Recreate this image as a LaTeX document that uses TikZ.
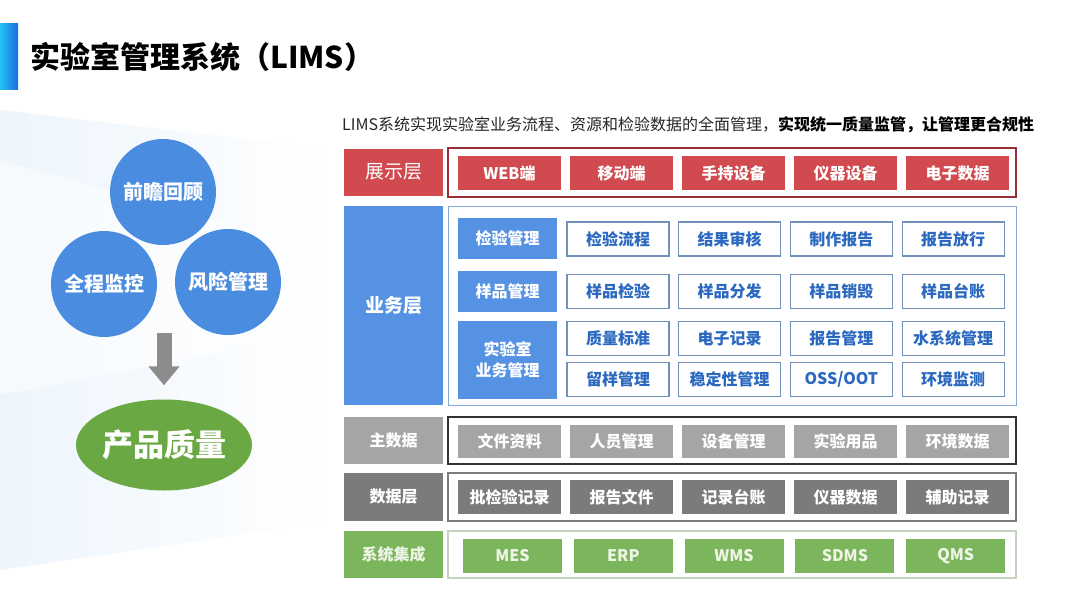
\documentclass[tikz,border=0pt]{standalone}
\usepackage{fontspec}
\setmainfont{Noto Sans CJK SC}
\usetikzlibrary{arrows.meta}
\usetikzlibrary{shapes.geometric}

\definecolor{barcyan}{HTML}{22C3F2}
\definecolor{barblue}{HTML}{1B6CE0}
\definecolor{backblue}{HTML}{EDF5FC}
\definecolor{showred}{HTML}{D04A4F}
\definecolor{showframe}{HTML}{9A2E36}
\definecolor{bizblue}{HTML}{5592E3}
\definecolor{bizframe}{HTML}{86A8D4}
\definecolor{bizedge}{HTML}{7190BC}
\definecolor{biztext}{HTML}{2B68C0}
\definecolor{mastergray}{HTML}{A7A4A4}
\definecolor{datagray}{HTML}{7B7B7B}
\definecolor{intgreen}{HTML}{7CB65C}
\definecolor{intframe}{HTML}{C5D2BE}
\definecolor{inttext}{HTML}{EEF5E6}
\definecolor{circblue}{HTML}{4A8DE0}
\definecolor{qualgreen}{HTML}{6AA843}
\definecolor{arrowgray}{HTML}{8C8C8C}

\newcommand{\fsz}[1]{\fontsize{#1}{#1}\selectfont}

\tikzset{
  box/.style={inner sep=0pt, text=white, font=\fsz{16}\bfseries},
  layer/.style={box, minimum width=99pt, minimum height=47pt},
  item/.style={box, minimum width=103pt, minimum height=34pt},
  frame/.style={draw, line width=1.3pt, minimum width=568pt, inner sep=0pt},
  bizitem/.style={item, fill=white, draw=bizedge, line width=1.2pt, minimum width=102pt, text=biztext},
  circ/.style={circle, fill=circblue, minimum size=106pt, inner sep=0pt, text=white, font=\fsz{20}\bfseries}
}

\begin{document}
\begin{tikzpicture}[x=1pt, y=-1pt]
\useasboundingbox (0,0) rectangle (1066,600);
\fill[white] (0,0) rectangle (1066,600);
% background bands
\shade[left color=backblue, right color=white] (0,110) -- (340,150) -- (340,520) -- (0,570) -- cycle;
\fill[white, opacity=0.5] (0,160) -- (340,255) -- (340,330) -- (0,395) -- cycle;

% title
\shade[left color=barcyan, right color=barblue] (0,23) rectangle (18,89);
\node[anchor=west, inner sep=0pt, font=\fsz{30}\bfseries] (title) at (30,57) {实验室管理系统（LIMS）};

% left part
\node[circ] (review) at (163,192) {前瞻回顾};
\node[circ] (monitor) at (104,284) {全程监控};
\node[circ] (risk) at (228,282) {风险管理};
\node[ellipse, fill=qualgreen, minimum width=176pt, minimum height=91pt, inner sep=0pt,
      text=white, font=\fsz{31}\bfseries] (quality) at (164,445) {产品质量};
\coordinate (arrowtop) at (164,333);
\draw[arrowgray, line width=15pt, -{Triangle[width=30pt, length=19pt]}, shorten >=14pt]
  (arrowtop) -- (quality);

% headline
\node[anchor=west, inner sep=0pt, font=\fsz{16}] (headline) at (342,125)
  {\textcolor{black!85}{LIMS系统实现实验室业务流程、资源和检验数据的全面管理，}\textbf{实现统一质量监管，让管理更合规性}};

% presentation layer
\node[layer, fill=showred, font=\fsz{19}] (show) at (393.5,172) {展示层};
\node[frame, draw=showframe, minimum height=49pt] (showbox) at (732,172.5) {};
\foreach \t [count=\i] in {WEB端,移动端,手持设备,仪器设备,电子数据}
  \node[item, fill=showred] (show\i) at ({509.5+(\i-1)*112},173) {\t};

% business layer
\node[layer, fill=bizblue, minimum height=199pt, font=\fsz{19}\bfseries] (biz) at (393.5,305.5) {业务层};
\node[frame, draw=bizframe, line width=1pt, minimum height=199pt] (bizbox) at (732,305.5) {};
\node[layer, fill=bizblue, minimum height=41pt] (check) at (507.5,238.5) {检验管理};
\node[layer, fill=bizblue, minimum height=41pt] (sample) at (507.5,291.5) {样品管理};
\node[layer, fill=bizblue, minimum height=78pt, align=center,
      font=\fontsize{16}{21}\selectfont\bfseries] (lab) at (507.5,360) {实验室\\业务管理};
\foreach \t [count=\i] in {检验流程,结果审核,制作报告,报告放行}
  \node[bizitem] (check\i) at ({618+(\i-1)*111.7},239) {\t};
\foreach \t [count=\i] in {样品检验,样品分发,样品销毁,样品台账}
  \node[bizitem] (sample\i) at ({618+(\i-1)*111.7},291.5) {\t};
\foreach \t [count=\i] in {质量标准,电子记录,报告管理,水系统管理}
  \node[bizitem] (lab\i) at ({618+(\i-1)*111.7},338.5) {\t};
\foreach \t [count=\i] in {留样管理,稳定性管理,OSS/OOT,环境监测}
  \node[bizitem] (labx\i) at ({618+(\i-1)*111.7},379.5) {\t};

% master data
\node[layer, fill=mastergray] (master) at (393.5,440.5) {主数据};
\node[frame, draw=black!80, minimum height=47pt] (masterbox) at (732,440.5) {};
\foreach \t [count=\i] in {文件资料,人员管理,设备管理,实验用品,环境数据}
  \node[item, fill=mastergray, minimum height=33pt] (master\i) at ({509.5+(\i-1)*112},441) {\t};

% data layer
\node[layer, fill=datagray, minimum height=48pt] (data) at (393.5,497) {数据层};
\node[frame, draw=datagray, minimum height=48pt] (databox) at (732,497) {};
\foreach \t [count=\i] in {批检验记录,报告文件,记录台账,仪器数据,辅助记录}
  \node[item, fill=datagray] (data\i) at ({509.5+(\i-1)*112},497) {\t};

% integration
\node[layer, fill=intgreen, text=inttext] (integ) at (393.5,554.5) {系统集成};
\node[frame, draw=intframe, minimum height=47pt] (integbox) at (732,554.5) {};
\foreach \t [count=\i] in {MES,ERP,WMS,SDMS,QMS}
  \node[item, fill=intgreen, text=inttext, minimum width=99pt] (integ\i) at ({512.5+(\i-1)*110.8},556) {\t};
\end{tikzpicture}
\end{document}
